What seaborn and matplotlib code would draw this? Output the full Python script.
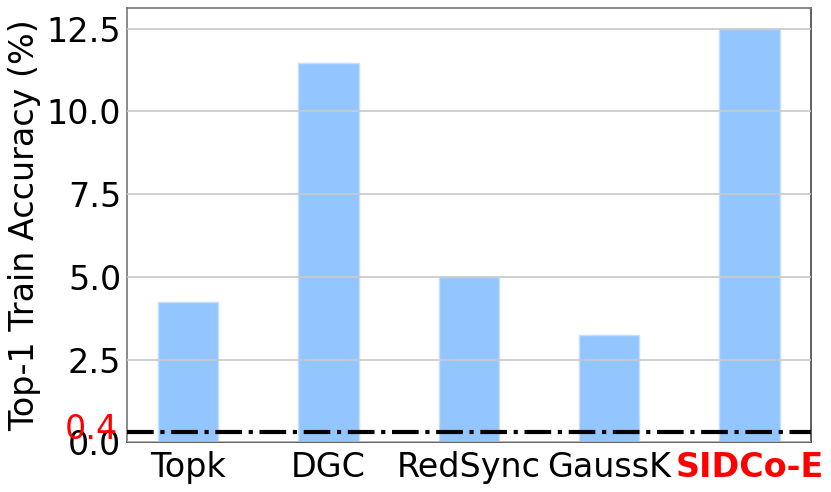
import numpy as np
import pandas as pd
import seaborn as sns
import matplotlib.pyplot as plt
import matplotlib.transforms as mtransforms

# Data
methods = ['Topk', 'DGC', 'RedSync', 'GaussK', 'SIDCo-E']
accuracy = [4.25, 11.45, 5.0, 3.25, 12.5]
baseline = 0.32
baseline_label = '0.4'
yticks = [0.0, 2.5, 5.0, 7.5, 10.0, 12.5]

df = pd.DataFrame({'method': methods, 'accuracy': accuracy})

sns.set_style('white')
plt.rcParams['font.family'] = ['DejaVu Sans']
plt.rcParams['text.color'] = 'black'
plt.rcParams['axes.labelcolor'] = 'black'
plt.rcParams['xtick.color'] = 'black'
plt.rcParams['ytick.color'] = 'black'

fig, ax = plt.subplots(figsize=(8.31, 4.92), dpi=100)
fig.subplots_adjust(left=0.1525, right=0.9756, top=0.9837, bottom=0.1008)

sns.barplot(data=df, x='method', y='accuracy', color='#93c6fe', saturation=1,
            width=0.43, edgecolor='#c4defe', linewidth=1, ax=ax, zorder=1)

ax.axhline(baseline, color='black', linestyle='-.', linewidth=3, zorder=3)

# horizontal grid drawn over the bars
ax.set_axisbelow(False)
ax.yaxis.grid(True, color='#c8c8c8', linewidth=1.2, zorder=2)
ax.xaxis.grid(False)

ax.set_xlim(-0.437, len(methods) - 1 + 0.437)
ax.set_ylim(0, max(accuracy) * 1.05)
ax.set_yticks(yticks)
ax.set_yticklabels([f'{t:.1f}' for t in yticks])

ax.tick_params(axis='y', length=0, labelsize=24, pad=4, labelcolor='black')
ax.tick_params(axis='x', length=4, width=1, labelsize=24, pad=2,
               color='#555555', labelcolor='black')
ax.set_xlabel('')
ax.set_ylabel('Top-1 Train Accuracy (%)', fontsize=24, color='black')

lbl = ax.get_xticklabels()[-1]
lbl.set_color('red')
lbl.set_fontweight('bold')

trans = mtransforms.blended_transform_factory(ax.transAxes, ax.transData)
ax.text(-0.013, 0.4, baseline_label, color='red', fontsize=24,
        ha='right', va='center', transform=trans)

for side in ['left', 'top']:
    ax.spines[side].set_color('#777777')
for side in ['right', 'bottom']:
    ax.spines[side].set_color('#444444')
for s in ax.spines.values():
    s.set_linewidth(1.2)

plt.savefig('out.png', dpi=100)
